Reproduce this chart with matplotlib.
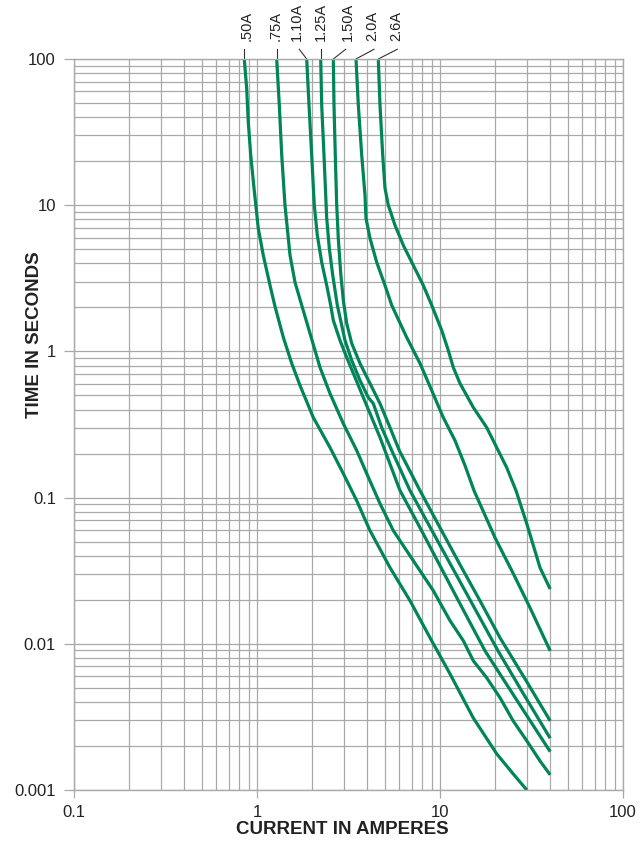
import matplotlib
matplotlib.use('Agg')
import matplotlib.pyplot as plt
from matplotlib.ticker import FixedLocator, FixedFormatter, NullFormatter, LogLocator
from matplotlib.transforms import blended_transform_factory

plt.rcParams['font.family'] = ['Liberation Sans', 'DejaVu Sans']

# fuse ratings and their time-current curves (amps, seconds)
ratings = ['.50A', '.75A', '1.10A', '1.25A', '1.50A', '2.0A', '2.6A']

amps_050 = [0.852, 0.878, 0.896, 0.924, 0.963, 1.016, 1.082, 1.178, 1.254, 1.392, 1.548, 1.718,
            2.031, 2.506, 2.962, 3.506, 4.145, 5.33, 6.86, 8.82, 11.34, 15.2, 20.4, 25.1, 29.8]
secs_050 = [100, 63.3, 37.0, 22.0, 13.1, 6.96, 4.55, 2.83, 2.03, 1.25, 0.828, 0.585,
            0.353, 0.220, 0.146, 0.0953, 0.0594, 0.0332, 0.0197, 0.0110, 0.00623, 0.00311,
            0.00177, 0.00129, 0.001]

amps_075 = [1.281, 1.324, 1.365, 1.422, 1.515, 1.613, 1.755, 1.948, 2.210, 2.506, 2.962, 3.506,
            3.977, 4.70, 5.56, 7.15, 9.19, 11.34, 13.41, 15.2, 18.0, 21.3, 25.1, 29.8, 35.2, 40]
secs_075 = [100, 48.4, 22.0, 10.0, 4.55, 2.97, 2.07, 1.33, 0.776, 0.515, 0.321, 0.210,
            0.146, 0.0910, 0.0594, 0.0370, 0.0231, 0.0144, 0.0105, 0.00766, 0.00585, 0.00427,
            0.00297, 0.00217, 0.00158, 0.00127]

amps_110 = [1.869, 1.924, 1.990, 2.056, 2.136, 2.257, 2.404, 2.527, 2.612, 2.841, 3.092, 3.432,
            3.810, 4.234, 4.700, 6.045, 7.775, 10.0, 12.86, 17.62, 22.66, 29.14, 40]
secs_110 = [100, 48.4, 22.0, 10.0, 6.23, 4.07, 2.83, 2.07, 1.63, 1.19, 0.910, 0.664,
            0.484, 0.353, 0.258, 0.1117, 0.0623, 0.0342, 0.0188, 0.00895, 0.00549, 0.00337,
            0.00183]

amps_125 = [2.229, 2.257, 2.323, 2.374, 2.404, 2.484, 2.593, 2.747, 3.026, 3.293, 3.654, 4.057,
            4.320, 4.802, 5.446, 6.857, 9.04, 11.93, 15.73, 20.75, 28.77, 40]
secs_125 = [100, 48.4, 22.0, 11.71, 8.15, 5.08, 3.32, 2.07, 1.19, 0.868, 0.633, 0.484,
            0.440, 0.3015, 0.210, 0.1117, 0.0594, 0.0316, 0.01683, 0.00895, 0.00448, 0.00226]

amps_150 = [2.612, 2.635, 2.678, 2.726, 2.781, 2.867, 2.962, 3.092, 3.293, 3.654, 4.145, 4.700,
            5.33, 5.993, 7.775, 10.0, 12.86, 16.54, 21.27, 29.14, 40]
secs_150 = [100, 48.4, 22.0, 10.0, 5.94, 3.42, 2.24, 1.555, 1.134, 0.828, 0.604, 0.440,
            0.3015, 0.210, 0.1117, 0.0623, 0.0348, 0.0197, 0.0110, 0.00576, 0.00297]

amps_200 = [3.475, 3.578, 3.734, 3.892, 3.940, 4.145, 4.510, 5.005, 5.446, 6.577, 7.775, 9.008,
            10.42, 12.08, 13.70, 15.34, 19.98, 25.15, 31.03, 40]
secs_200 = [100, 48.4, 22.0, 11.71, 8.15, 5.94, 4.07, 2.83, 2.07, 1.247, 0.828, 0.541,
            0.353, 0.2457, 0.1656, 0.1117, 0.0532, 0.0302, 0.01765, 0.00895]

amps_260 = [4.601, 4.700, 4.863, 5.005, 5.219, 5.677, 6.302, 7.147, 8.104, 9.008, 10.22, 11.10,
            11.82, 12.86, 15.21, 18.00, 20.41, 23.14, 26.02, 29.78, 35.19, 40]
secs_260 = [100, 48.4, 22.0, 13.08, 10.0, 7.29, 5.32, 3.88, 2.83, 2.07, 1.393, 1.016,
            0.777, 0.604, 0.4136, 0.3015, 0.2201, 0.1605, 0.1117, 0.0664, 0.0332, 0.0237]

curves = [(amps_050, secs_050), (amps_075, secs_075), (amps_110, secs_110), (amps_125, secs_125),
          (amps_150, secs_150), (amps_200, secs_200), (amps_260, secs_260)]

# where the rating labels sit above the chart, and where their leader lines start
label_x = [0.882, 1.270, 1.654, 2.229, 3.143, 4.250, 5.750]
leader_x = [0.852, 1.281, 1.703, 2.229, 3.053, 4.358, 5.844]

x_ticks = [0.1, 1, 10, 100]
x_labels = ['0.1', '1', '10', '100']
y_ticks = [0.001, 0.01, 0.1, 1, 10, 100]
y_labels = ['0.001', '0.01', '0.1', '1', '10', '100']

green = '#00855a'
grid_c = '#a9a9a9'

fig = plt.figure(figsize=(6.42, 8.42), dpi=100)
ax = fig.add_axes([74 / 642, 1 - 790 / 842, 549 / 642, 731 / 842])
ax.set_xscale('log')
ax.set_yscale('log')
ax.set_xlim(0.1, 100)
ax.set_ylim(0.001, 100)

ax.xaxis.set_major_locator(FixedLocator(x_ticks))
ax.xaxis.set_major_formatter(FixedFormatter(x_labels))
ax.yaxis.set_major_locator(FixedLocator(y_ticks))
ax.yaxis.set_major_formatter(FixedFormatter(y_labels))
ax.xaxis.set_minor_locator(LogLocator(base=10, subs=range(2, 10), numticks=20))
ax.yaxis.set_minor_locator(LogLocator(base=10, subs=range(2, 10), numticks=20))
ax.xaxis.set_minor_formatter(NullFormatter())
ax.yaxis.set_minor_formatter(NullFormatter())

ax.grid(which='both', color=grid_c, lw=0.9)
ax.set_axisbelow(True)
for s in ax.spines.values():
    s.set_color(grid_c)
    s.set_linewidth(1.0)

ax.tick_params(axis='y', which='major', length=7, width=0.9, color=grid_c, pad=6,
               labelsize=12, labelcolor='#222222')
ax.tick_params(axis='x', which='major', length=6, width=0.9, color=grid_c, pad=5,
               labelsize=12, labelcolor='#222222')
ax.tick_params(which='minor', length=0)

for amps, secs in curves:
    ax.plot(amps, secs, color=green, lw=2.3, solid_capstyle='butt', solid_joinstyle='round')

trans = blended_transform_factory(ax.transData, ax.transAxes)
for name, lx, sx, (amps, secs) in zip(ratings, label_x, leader_x, curves):
    ax.plot([sx, amps[0]], [1.0133, 1.0], transform=trans, color='#333333', lw=0.8, clip_on=False)
    ax.text(lx, 1.025, name, transform=trans, rotation=90, ha='center', va='bottom',
            fontsize=10.5, color='#222222')

fig.text(35 / 642, 1 - 335 / 842, 'TIME IN SECONDS', rotation=90, ha='center', va='center',
         fontsize=13.5, fontweight='bold', color='#222222')
fig.text(342.5 / 642, 1 - 830 / 842, 'CURRENT IN AMPERES', ha='center', va='center',
         fontsize=13.5, fontweight='bold', color='#222222')

fig.savefig('out.png', dpi=100)
